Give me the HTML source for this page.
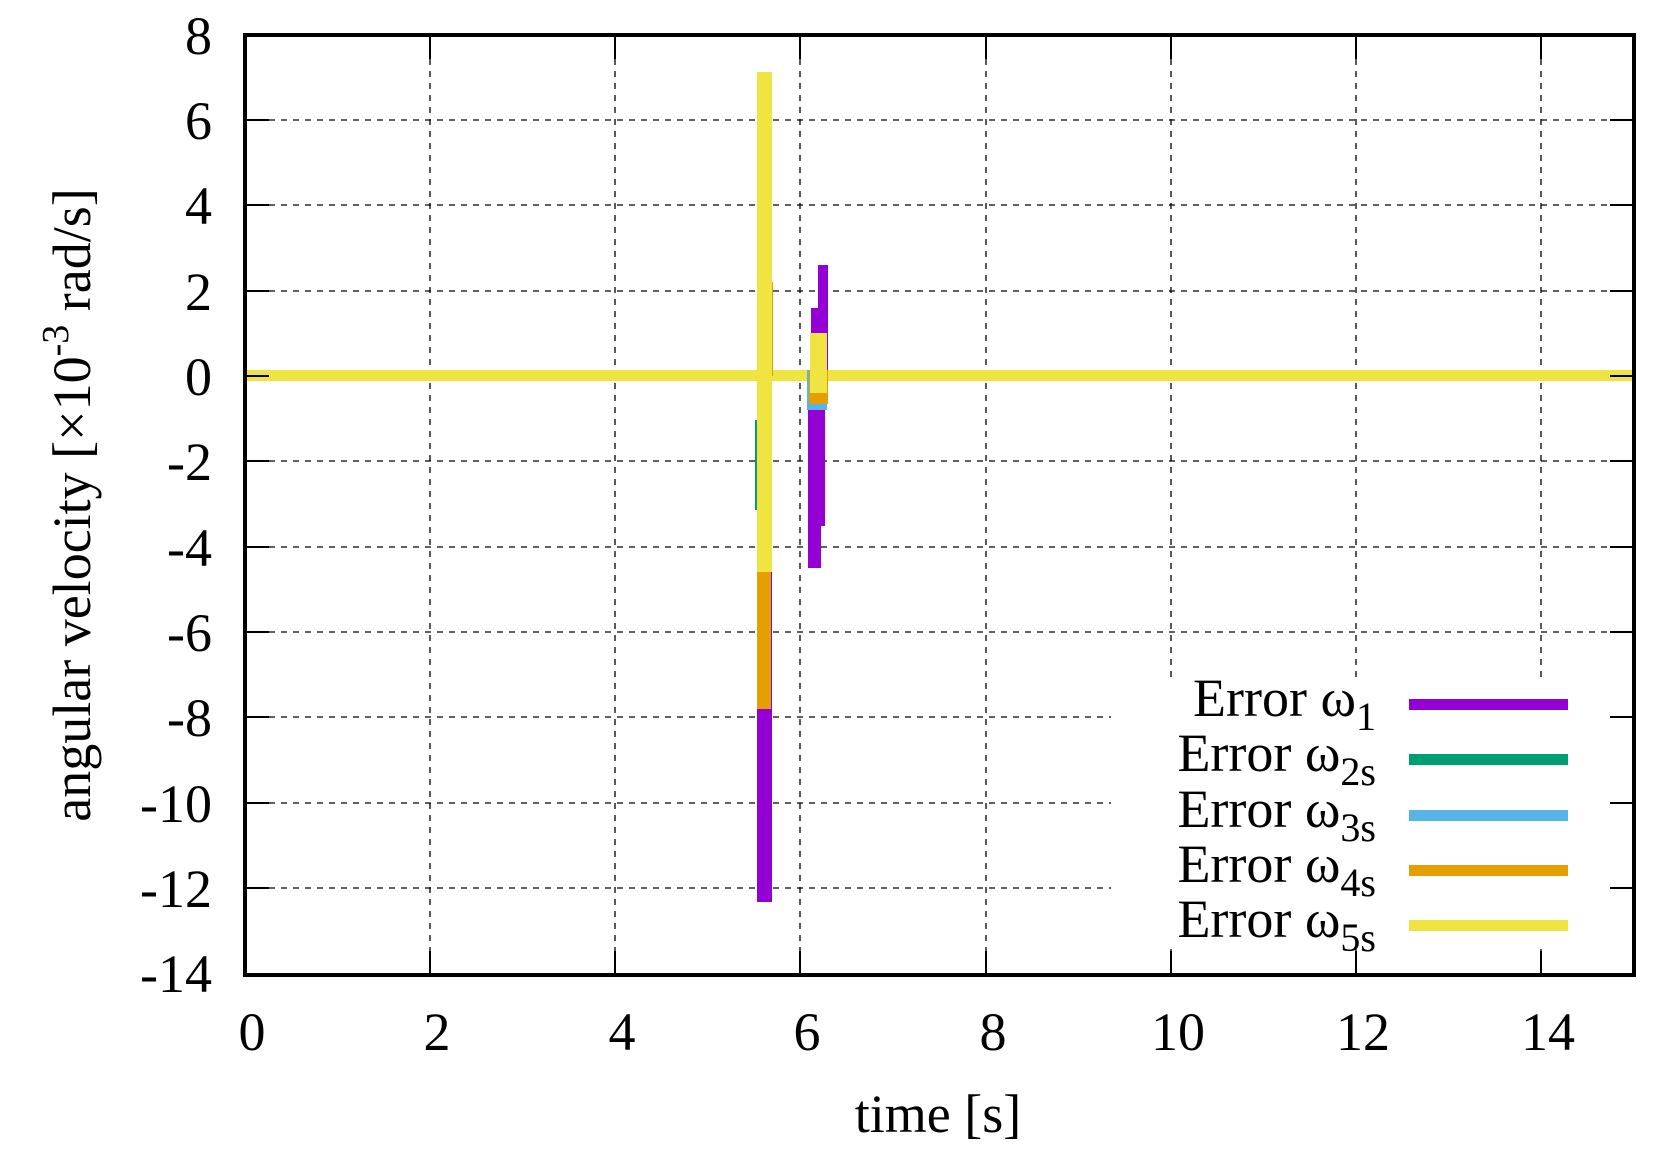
<!DOCTYPE html>
<html><head><meta charset="utf-8"><style>
html,body{margin:0;padding:0;background:#fff;}
svg{display:block;}
svg text{font-family:"Liberation Serif","DejaVu Serif",serif;fill:#000;}
</style></head><body>
<svg width="1659" height="1155" viewBox="0 0 1659 1155" xmlns="http://www.w3.org/2000/svg" font-family="Liberation Serif, DejaVu Serif, serif">
<rect width="1659" height="1155" fill="#fff"/>
<g stroke="#000" stroke-width="1.3" stroke-dasharray="6,6">
<line x1="430" y1="35" x2="430" y2="975"/>
<line x1="615" y1="35" x2="615" y2="975"/>
<line x1="800" y1="35" x2="800" y2="975"/>
<line x1="986" y1="35" x2="986" y2="975"/>
<line x1="1171" y1="35" x2="1171" y2="975"/>
<line x1="1356" y1="35" x2="1356" y2="975"/>
<line x1="1541" y1="35" x2="1541" y2="975"/>
<line x1="245" y1="120" x2="1634" y2="120"/>
<line x1="245" y1="205" x2="1634" y2="205"/>
<line x1="245" y1="291" x2="1634" y2="291"/>
<line x1="245" y1="376" x2="1634" y2="376"/>
<line x1="245" y1="461" x2="1634" y2="461"/>
<line x1="245" y1="547" x2="1634" y2="547"/>
<line x1="245" y1="632" x2="1634" y2="632"/>
<line x1="245" y1="717" x2="1634" y2="717"/>
<line x1="245" y1="803" x2="1634" y2="803"/>
<line x1="245" y1="888" x2="1634" y2="888"/>
</g>
<rect x="1111" y="677" width="514" height="272" fill="#fff"/>
<!-- data -->
<rect x="245" y="370" width="1389" height="11" fill="#f0e442"/>
<rect x="757" y="376" width="15" height="526" fill="#9400d3"/>
<rect x="755" y="420" width="6" height="90" fill="#009e73"/>
<rect x="757" y="572" width="14" height="137" fill="#e69f00"/>
<rect x="766" y="282" width="7" height="94" fill="#e69f00"/>
<rect x="757" y="72" width="15" height="500" fill="#f0e442"/>
<rect x="808" y="376" width="13" height="192" fill="#9400d3"/>
<rect x="811" y="308" width="14" height="218" fill="#9400d3"/>
<rect x="818" y="265" width="10" height="132" fill="#9400d3"/>
<rect x="807" y="370" width="20" height="40" fill="#56b4e9"/>
<rect x="809" y="370" width="19" height="34" fill="#e69f00"/>
<rect x="810" y="333" width="17" height="60" fill="#f0e442"/>
<!-- border and ticks -->
<g stroke="#000" stroke-width="2">
<line x1="430" y1="975" x2="430" y2="951"/><line x1="430" y1="35" x2="430" y2="59"/>
<line x1="615" y1="975" x2="615" y2="951"/><line x1="615" y1="35" x2="615" y2="59"/>
<line x1="800" y1="975" x2="800" y2="951"/><line x1="800" y1="35" x2="800" y2="59"/>
<line x1="986" y1="975" x2="986" y2="951"/><line x1="986" y1="35" x2="986" y2="59"/>
<line x1="1171" y1="975" x2="1171" y2="951"/><line x1="1171" y1="35" x2="1171" y2="59"/>
<line x1="1356" y1="975" x2="1356" y2="951"/><line x1="1356" y1="35" x2="1356" y2="59"/>
<line x1="1541" y1="975" x2="1541" y2="951"/><line x1="1541" y1="35" x2="1541" y2="59"/>
<line x1="245" y1="120" x2="269" y2="120"/><line x1="1634" y1="120" x2="1610" y2="120"/>
<line x1="245" y1="205" x2="269" y2="205"/><line x1="1634" y1="205" x2="1610" y2="205"/>
<line x1="245" y1="291" x2="269" y2="291"/><line x1="1634" y1="291" x2="1610" y2="291"/>
<line x1="245" y1="376" x2="269" y2="376"/><line x1="1634" y1="376" x2="1610" y2="376"/>
<line x1="245" y1="461" x2="269" y2="461"/><line x1="1634" y1="461" x2="1610" y2="461"/>
<line x1="245" y1="547" x2="269" y2="547"/><line x1="1634" y1="547" x2="1610" y2="547"/>
<line x1="245" y1="632" x2="269" y2="632"/><line x1="1634" y1="632" x2="1610" y2="632"/>
<line x1="245" y1="717" x2="269" y2="717"/><line x1="1634" y1="717" x2="1610" y2="717"/>
<line x1="245" y1="803" x2="269" y2="803"/><line x1="1634" y1="803" x2="1610" y2="803"/>
<line x1="245" y1="888" x2="269" y2="888"/><line x1="1634" y1="888" x2="1610" y2="888"/>
</g>
<rect x="245" y="35" width="1389" height="940" fill="none" stroke="#000" stroke-width="4"/>
<!-- tick labels -->
<g font-size="54" text-anchor="end">
<text x="212" y="54">8</text>
<text x="212" y="139">6</text>
<text x="212" y="224">4</text>
<text x="212" y="310">2</text>
<text x="212" y="395">0</text>
<text x="212" y="480">-2</text>
<text x="212" y="566">-4</text>
<text x="212" y="651">-6</text>
<text x="212" y="736">-8</text>
<text x="212" y="822">-10</text>
<text x="212" y="907">-12</text>
<text x="212" y="992">-14</text>
</g>
<g font-size="54" text-anchor="middle">
<text x="252" y="1050">0</text>
<text x="437" y="1050">2</text>
<text x="622" y="1050">4</text>
<text x="807" y="1050">6</text>
<text x="993" y="1050">8</text>
<text x="1178" y="1050">10</text>
<text x="1363" y="1050">12</text>
<text x="1548" y="1050">14</text>
</g>
<text x="938" y="1132" font-size="54" text-anchor="middle">time [s]</text>
<text transform="translate(90,505) rotate(-90)" font-size="54" text-anchor="middle">angular velocity [×10<tspan dy="-22" font-size="38">-3</tspan><tspan dy="22"> rad/s]</tspan></text>
<!-- legend -->
<g font-size="54" text-anchor="end">
<text x="1376" y="716">Error ω<tspan dy="14" font-size="40">1</tspan></text>
<text x="1376" y="771">Error ω<tspan dy="14" font-size="40">2s</tspan></text>
<text x="1376" y="827">Error ω<tspan dy="14" font-size="40">3s</tspan></text>
<text x="1376" y="882">Error ω<tspan dy="14" font-size="40">4s</tspan></text>
<text x="1376" y="937">Error ω<tspan dy="14" font-size="40">5s</tspan></text>
</g>
<rect x="1409" y="699" width="159" height="11" fill="#9400d3"/>
<rect x="1409" y="754" width="159" height="11" fill="#009e73"/>
<rect x="1409" y="810" width="159" height="11" fill="#56b4e9"/>
<rect x="1409" y="865" width="159" height="11" fill="#e69f00"/>
<rect x="1409" y="920" width="159" height="11" fill="#f0e442"/>
</svg>
</body></html>
